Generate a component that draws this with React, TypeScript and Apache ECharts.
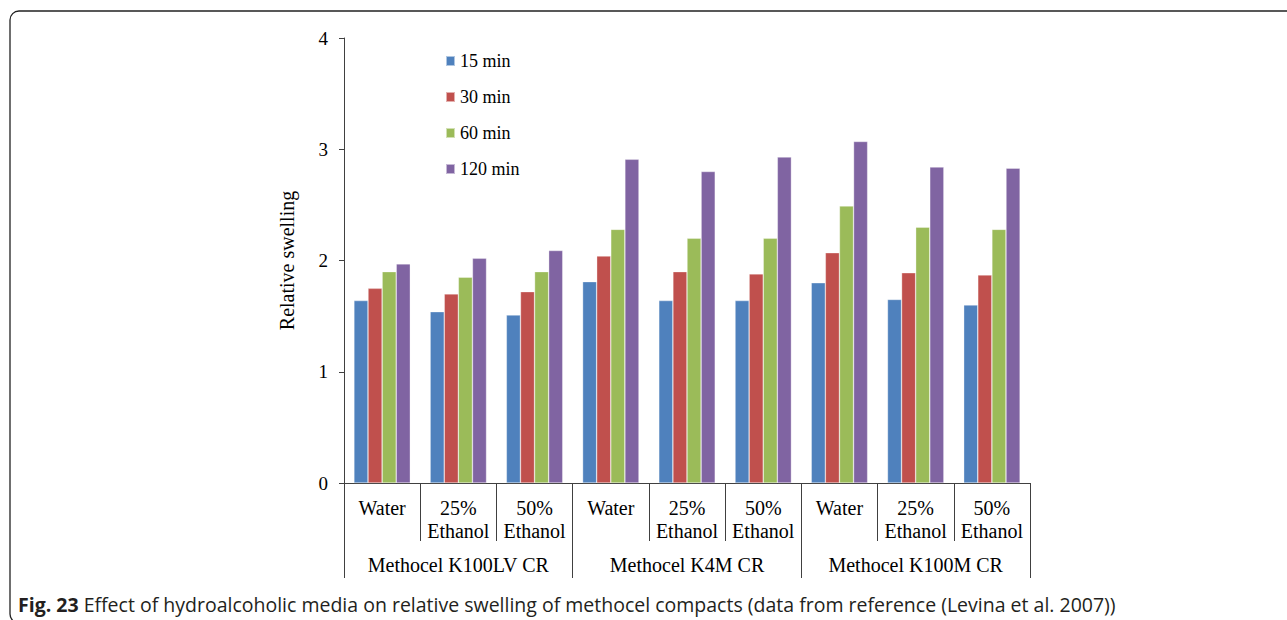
import React, { useEffect, useRef } from "react";
import * as echarts from "echarts";

const categories = ["Water", "25%\nEthanol", "50%\nEthanol", "Water", "25%\nEthanol", "50%\nEthanol", "Water", "25%\nEthanol", "50%\nEthanol"];
const groups = ["Methocel K100LV CR", "Methocel K4M CR", "Methocel K100M CR"];
const seriesNames = ["15 min", "30 min", "60 min", "120 min"];
const s15 = [1.64, 1.54, 1.51, 1.81, 1.64, 1.64, 1.80, 1.65, 1.60];
const s30 = [1.75, 1.70, 1.72, 2.04, 1.90, 1.88, 2.07, 1.89, 1.87];
const s60 = [1.90, 1.85, 1.90, 2.28, 2.20, 2.20, 2.49, 2.30, 2.28];
const s120 = [1.97, 2.02, 2.09, 2.91, 2.80, 2.93, 3.07, 2.84, 2.83];
const yTicks = [0, 1, 2, 3, 4];
const colors = ["#4F81BD", "#C0504D", "#9BBB59", "#8064A2"];

const SERIF = "'Liberation Serif', 'Times New Roman', serif";
const SANS = "'Open Sans', 'Noto Sans', sans-serif";

export default function App() {
  const ref = useRef<HTMLDivElement>(null);
  useEffect(() => {
    if (!ref.current) return;
    const chart = echarts.init(ref.current, null, { renderer: "svg" });
    const values = [s15, s30, s60, s120];
    chart.setOption({
      animation: false,
      backgroundColor: "#fff",
      grid: { left: 344, top: 38, width: 686, height: 445, containLabel: false },
      legend: {
        orient: "vertical",
        left: 440,
        top: 47,
        itemWidth: 9,
        itemHeight: 10,
        itemGap: 18,
        icon: "rect",
        data: seriesNames,
        textStyle: { fontFamily: SERIF, fontSize: 18, color: "#000", lineHeight: 18 },
      },
      xAxis: [
        {
          type: "category",
          data: categories,
          position: "bottom",
          axisLine: { show: true, lineStyle: { color: "#404040", width: 1 } },
          axisTick: { show: true, interval: 0, length: 58, lineStyle: { color: "#404040" } },
          axisLabel: {
            interval: 0,
            margin: 13,
            fontFamily: SERIF,
            fontSize: 20,
            lineHeight: 23,
            color: "#000",
            verticalAlign: "top",
          },
        },
        {
          type: "category",
          data: groups,
          position: "bottom",
          axisLine: { show: false },
          axisTick: { show: true, interval: 0, length: 95, lineStyle: { color: "#404040" } },
          axisLabel: {
            interval: 0,
            margin: 70,
            fontFamily: SERIF,
            fontSize: 20,
            lineHeight: 23,
            color: "#000",
            verticalAlign: "top",
          },
        },
      ],
      yAxis: {
        type: "value",
        min: 0,
        max: 4,
        interval: 1,
        name: "Relative swelling",
        nameLocation: "middle",
        nameGap: 47,
        nameRotate: 90,
        nameTextStyle: { fontFamily: SERIF, fontSize: 20, color: "#000" },
        axisLine: { show: true, lineStyle: { color: "#404040", width: 1 } },
        axisTick: { show: true, length: 5, inside: false, lineStyle: { color: "#404040" } },
        splitLine: { show: false },
        axisLabel: {
          margin: 16,
          fontFamily: SERIF,
          fontSize: 19,
          color: "#000",
          formatter: (v: number) => (yTicks.includes(v) ? String(v) : ""),
        },
      },
      series: values.map((d, i) => ({
        name: seriesNames[i],
        type: "bar",
        data: d,
        barGap: "0%",
        barCategoryGap: "26%",
        itemStyle: { color: colors[i], borderColor: "rgba(255,255,255,0.55)", borderWidth: 0.6 },
      })),
      graphic: [
        {
          type: "rect",
          shape: { x: 10, y: 11, width: 1320, height: 612, r: 9 },
          style: { fill: "none", stroke: "#222", lineWidth: 1.3 },
          silent: true,
        },
        {
          type: "text",
          left: 18,
          top: 594,
          style: {
            text: "{b|Fig. 23} Effect of hydroalcoholic media on relative swelling of methocel compacts (data from reference (Levina et al. 2007))",
            fontFamily: SANS,
            fontSize: 19.5,
            fill: "#231f20",
            rich: {
              b: { fontFamily: SANS, fontSize: 19.5, fontWeight: "bold", fill: "#231f20" },
            },
          },
        },
      ],
    });
    return () => chart.dispose();
  }, []);
  return (
    <div
      ref={ref}
      style={{ position: "fixed", left: 0, top: 0, width: 1287, height: 620, background: "#fff" }}
    />
  );
}
